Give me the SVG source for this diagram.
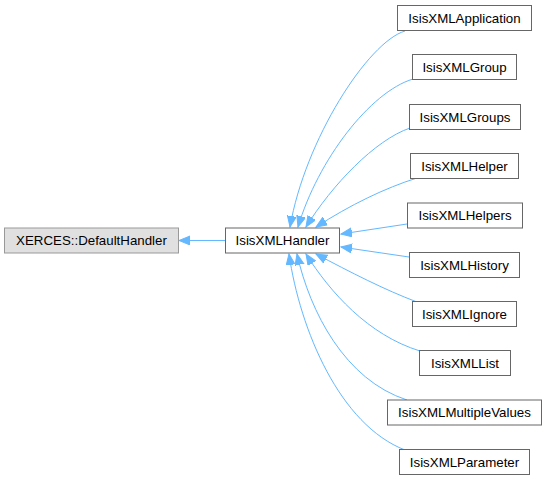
<svg xmlns="http://www.w3.org/2000/svg" width="547" height="480" viewBox="0 0 547 480">
<style>
.box rect{fill:#ffffff;stroke:#666666;stroke-width:1}
.ext rect{fill:#e0e0e0;stroke:#999999;stroke-width:1}
text{font-family:"Liberation Sans",Arial,Helvetica,sans-serif;font-size:13.3px;fill:#000000;text-anchor:middle}
.edge{fill:none;stroke:#63b8ff;stroke-width:1;marker-end:url(#arr)}
</style>
<defs>
<marker id="arr" markerUnits="userSpaceOnUse" markerWidth="12" markerHeight="10" refX="11" refY="4.5" orient="auto">
<path d="M0,0 L11,4.5 L0,9 z" fill="#63b8ff" stroke="#63b8ff" stroke-width="1"/>
</marker>
</defs>
<rect width="547" height="480" fill="#ffffff"/>
<g id="edges">
<path class="edge" d="M225,240.5 L179,240.5"/>
<path class="edge" d="M405,31 C368,42 305,140 290,227"/>
<path class="edge" d="M413,79 C370,92 318,160 298,227"/>
<path class="edge" d="M410,128 C375,140 332,185 306,227"/>
<path class="edge" d="M417,178 C385,188 350,205 316,227"/>
<path class="edge" d="M407,224 L341,234"/>
<path class="edge" d="M409,257 L341,247"/>
<path class="edge" d="M417,302 C385,290 350,272 316,254"/>
<path class="edge" d="M420,351 C368,335 330,292 306,254"/>
<path class="edge" d="M407,400 C345,380 310,312 297,254"/>
<path class="edge" d="M405,450 C340,425 300,330 289,254"/>
</g>
<g id="node-xerces" class="ext"><rect x="4.5" y="228" width="174" height="25"/><text x="91.5" y="245">XERCES::DefaultHandler</text></g>
<g id="node-handler" class="box"><rect x="225.5" y="228" width="114" height="25"/><text x="282.5" y="245">IsisXMLHandler</text></g>
<g id="node-application" class="box"><rect x="397.5" y="5.5" width="134" height="25"/><text x="464.5" y="22.5">IsisXMLApplication</text></g>
<g id="node-group" class="box"><rect x="412.5" y="54.5" width="104" height="25"/><text x="464.5" y="71.5">IsisXMLGroup</text></g>
<g id="node-groups" class="box"><rect x="409.5" y="104.5" width="111" height="25"/><text x="465" y="121.5">IsisXMLGroups</text></g>
<g id="node-helper" class="box"><rect x="410.5" y="153.5" width="108" height="25"/><text x="464.5" y="170.5">IsisXMLHelper</text></g>
<g id="node-helpers" class="box"><rect x="407.5" y="203" width="115" height="25"/><text x="465" y="220">IsisXMLHelpers</text></g>
<g id="node-history" class="box"><rect x="409.5" y="252.5" width="110" height="25"/><text x="464.5" y="269.5">IsisXMLHistory</text></g>
<g id="node-ignore" class="box"><rect x="412.5" y="301.5" width="104" height="25"/><text x="464.5" y="318.5">IsisXMLIgnore</text></g>
<g id="node-list" class="box"><rect x="419.5" y="350.5" width="91" height="25"/><text x="465" y="367.5">IsisXMLList</text></g>
<g id="node-multiple" class="box"><rect x="387.5" y="400" width="154" height="25"/><text x="464.5" y="417">IsisXMLMultipleValues</text></g>
<g id="node-parameter" class="box"><rect x="399.5" y="449.5" width="130" height="25"/><text x="464.5" y="466.5">IsisXMLParameter</text></g>
</svg>
